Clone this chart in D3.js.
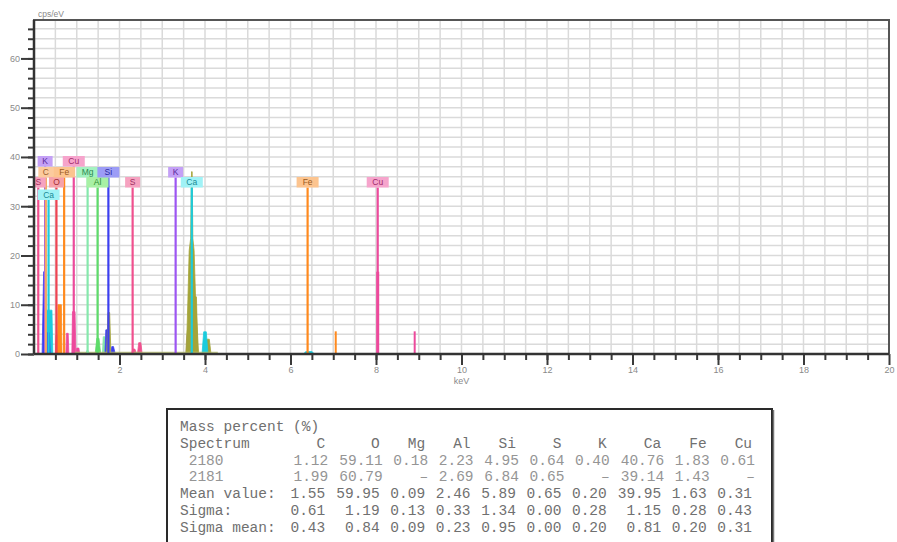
<!DOCTYPE html>
<html>
<head>
<meta charset="utf-8">
<script src="https://cdn.jsdelivr.net/npm/d3@7"></script>
<style>
  body { margin: 0; background: #fff; }
  svg text { font-family: "Liberation Sans", Arial, sans-serif; }
  .tbl text { font-family: "Liberation Mono", "Courier New", monospace; font-size: 14.5px; }
</style>
</head>
<body>
<svg id="chart" width="897" height="542"></svg>
<script>
// element marker lines (label text, line energy in keV, label row)
var markerElem = ["S", "K", "C", "Ca", "O", "Fe", "Cu", "Mg", "Al", "Si", "S", "K", "Ca", "Fe", "Cu"];
var markerKeV = [0.10, 0.26, 0.277, 0.341, 0.525, 0.705, 0.93, 1.254, 1.487, 1.74, 2.307, 3.313, 3.691, 6.40, 8.04];
var markerRow = [2, 0, 1, 3, 2, 1, 0, 1, 2, 1, 2, 1, 2, 2, 2];

// short unlabelled marker lines (keV, top in cps, element)
var minorKeV = [7.058, 8.905, 8.04];
var minorTop = [4.6, 4.6, 16.7];
var minorElem = ["Fe", "Cu", "Cu"];

// spectrum traces: [keV, cps]
var specCyanL = [[0.27, 0], [0.285, 8.9], [0.42, 8.9], [0.44, 0]];
var specBlueL = [[0.19, 0], [0.225, 16.7], [0.27, 16.7], [0.29, 4.3], [0.36, 4.3], [0.38, 0]];
var specRedO = [[0.50, 0], [0.515, 3.9], [0.545, 3.9], [0.56, 0]];
var specOrangeO = [[0.545, 0], [0.56, 10], [0.64, 10], [0.655, 0]];
var specPinkA = [[0.745, 0], [0.76, 4.2], [0.80, 4.2], [0.815, 0]];
var specPinkCu = [[0.885, 0], [0.90, 8.6], [0.96, 8.6], [0.98, 0]];
var specPinkB = [[0.98, 0], [1.0, 1.2], [1.05, 1.2], [1.07, 0]];
var specMg = [[1.2, 0], [1.25, 0.9], [1.3, 0]];
var specAl = [[1.43, 0], [1.47, 3.2], [1.52, 3.2], [1.56, 0]];
var specSiLight = [[1.60, 0], [1.62, 3.5], [1.66, 3.5], [1.68, 0]];
var specSiBlue = [[1.66, 0], [1.68, 4.9], [1.73, 4.9], [1.75, 0]];
var specSiOlive = [[1.70, 0], [1.73, 8.4], [1.77, 8.4], [1.80, 0]];
var specSiTail = [[1.80, 0], [1.82, 1.5], [1.86, 1.5], [1.90, 0]];
var specS = [[2.28, 0], [2.31, 1.0], [2.36, 1.0], [2.40, 0]];
var specPinkC = [[2.42, 0], [2.45, 2.3], [2.50, 2.3], [2.53, 0]];
var specK = [[3.28, 0], [3.31, 0.5], [3.34, 0]];
var specKb = [[3.56, 0], [3.58, 3.9], [3.62, 3.9], [3.64, 0]];
var specCa = [[3.55, 0], [3.58, 5], [3.60, 11], [3.63, 21], [3.665, 23.5], [3.685, 37], [3.70, 37],
  [3.715, 23.5], [3.745, 21], [3.78, 11], [3.82, 5], [3.85, 0]];
var specCaShoulder = [[3.74, 0], [3.76, 11.6], [3.80, 11.6], [3.83, 0]];
var specCaKbOlive = [[3.98, 0], [4.03, 3.0], [4.10, 3.0], [4.14, 0]];
var specCaKb = [[3.93, 0], [3.97, 4.5], [4.03, 4.5], [4.07, 0]];
var specFe = [[6.30, 0], [6.36, 0.5], [6.50, 0.5], [6.56, 0]];
var specBase = [[0.95, 0.35], [4.3, 0.35]];

var traces = [
  { pts: specCyanL, el: "Ca" }, { pts: specBlueL, el: "Si" }, { pts: specRedO, el: "O" },
  { pts: specOrangeO, el: "Fe" }, { pts: specPinkA, el: "Cu" }, { pts: specPinkCu, el: "Cu" },
  { pts: specPinkB, el: "Cu" }, { pts: specMg, el: "Mg" }, { pts: specAl, el: "Al" },
  { pts: specSiLight, el: "Mg" }, { pts: specSiBlue, el: "Si" }, { pts: specSiOlive, el: "olive" },
  { pts: specSiTail, el: "Si" }, { pts: specS, el: "S" }, { pts: specPinkC, el: "S" },
  { pts: specK, el: "K" }, { pts: specKb, el: "K" }, { pts: specCa, el: "olive" },
  { pts: specCaShoulder, el: "olive" }, { pts: specCaKbOlive, el: "olive" },
  { pts: specCaKb, el: "Ca" }, { pts: specFe, el: "Ca" },
];

// quantification table
var tableTitle = "Mass percent (%)";
var elements = ["C", "O", "Mg", "Al", "Si", "S", "K", "Ca", "Fe", "Cu"];
var spectrumIds = ["2180", "2181"];
var spec2180 = [1.12, 59.11, 0.18, 2.23, 4.95, 0.64, 0.40, 40.76, 1.83, 0.61];
var spec2181 = [1.99, 60.79, null, 2.69, 6.84, 0.65, null, 39.14, 1.43, null];
var meanValue = [1.55, 59.95, 0.09, 2.46, 5.89, 0.65, 0.20, 39.95, 1.63, 0.31];
var sigma = [0.61, 1.19, 0.13, 0.33, 1.34, 0.00, 0.28, 1.15, 0.28, 0.43];
var sigmaMean = [0.43, 0.84, 0.09, 0.23, 0.95, 0.00, 0.20, 0.81, 0.20, 0.31];

// colours: line, label fill, label text
var palette = {
  K: ["#9d55f2", "#c4a0f6", "#5a2a9a"],
  C: ["#f4a860", "#fccb9e", "#9a6030"],
  Fe: ["#ff8a1e", "#fcc48f", "#9a5a20"],
  Cu: ["#ec4a9c", "#f6a4cc", "#a02a6a"],
  Mg: ["#86e8ac", "#a4f2c0", "#2d8a50"],
  Al: ["#5edc6a", "#a8f0a4", "#2a8a30"],
  Si: ["#3d3ff0", "#9c9cf6", "#2a2aa0"],
  S: ["#f0508e", "#f6a2c0", "#a03060"],
  O: ["#f04452", "#f6a2aa", "#a02c34"],
  Ca: ["#1ccbdc", "#a0f2f6", "#1a8a95"],
  olive: ["#a4a43a"],
};

var svg = d3.select("#chart");
var plot = { left: 34, right: 889, top: 20, bottom: 354 };

var x = d3.scaleLinear().domain([0, 20]).range([plot.left, plot.right]);
var y = d3.scaleLinear().domain([0, 67.8]).range([plot.bottom, plot.top]);

svg.append("defs").append("clipPath").attr("id", "plot-clip")
  .append("rect")
  .attr("x", plot.left).attr("y", plot.top)
  .attr("width", plot.right - plot.left).attr("height", plot.bottom - plot.top);

// grid
var grid = svg.append("g").attr("id", "grid");
grid.selectAll("line.v").data(d3.range(0.5, 20, 0.5)).join("line")
  .attr("class", "v")
  .attr("x1", (d) => x(d)).attr("x2", (d) => x(d))
  .attr("y1", plot.top).attr("y2", plot.bottom)
  .attr("stroke", "#dadada").attr("stroke-width", 1.5);
grid.selectAll("line.h").data(d3.range(2, 67, 2)).join("line")
  .attr("class", "h")
  .attr("y1", (d) => y(d)).attr("y2", (d) => y(d))
  .attr("x1", plot.left).attr("x2", plot.right)
  .attr("stroke", "#dadada").attr("stroke-width", 1.5);

var inner = svg.append("g").attr("clip-path", "url(#plot-clip)");

// spectrum fills
var area = d3.line().x((d) => x(d[0])).y((d) => y(d[1]));
inner.append("g").attr("id", "spectrum")
  .selectAll("path").data(traces).join("path")
  .attr("d", (d) => area(d.pts) + "Z")
  .attr("fill", (d) => palette[d.el][0])
  .attr("stroke", (d) => palette[d.el][0])
  .attr("stroke-width", 0.8);

inner.append("path")
  .attr("d", area(specBase))
  .attr("fill", "none").attr("stroke", "#b8c070").attr("stroke-width", 1);

// element markers
var rowTop = [156, 167, 177, 189.5];
var boxH = 10.5;
var markers = markerElem.map((el, i) => ({ el: el, keV: markerKeV[i], row: markerRow[i] }));

inner.append("g").selectAll("line").data(minorKeV).join("line")
  .attr("x1", (d) => x(d)).attr("x2", (d) => x(d))
  .attr("y1", y(0)).attr("y2", (d, i) => y(minorTop[i]))
  .attr("stroke", (d, i) => palette[minorElem[i]][0])
  .attr("stroke-width", (d, i) => (i === 2 ? 3 : 2));

var mk = inner.append("g").attr("id", "markers");
mk.selectAll("line").data(markers).join("line")
  .attr("x1", (d) => x(d.keV)).attr("x2", (d) => x(d.keV))
  .attr("y1", y(0)).attr("y2", (d) => rowTop[d.row] + boxH)
  .attr("stroke", (d) => palette[d.el][0])
  .attr("stroke-width", 2.2);

var lbl = mk.selectAll("g.lbl").data(markers).join("g").attr("class", "lbl")
  .attr("transform", (d) => `translate(${x(d.keV)},${rowTop[d.row]})`);
lbl.append("rect")
  .attr("x", (d) => -(d.el.length > 1 ? 11 : 7.5))
  .attr("width", (d) => (d.el.length > 1 ? 22 : 15))
  .attr("height", boxH)
  .attr("fill", (d) => palette[d.el][1]);
lbl.append("text")
  .attr("y", boxH / 2 + 3)
  .attr("text-anchor", "middle")
  .attr("font-size", 8.5)
  .attr("fill", (d) => palette[d.el][2])
  .text((d) => d.el);

// axes
function styleAxis(g) {
  g.select(".domain").remove();
  g.selectAll(".tick line").attr("stroke", "#3a3a3a").attr("stroke-width", 2);
  g.selectAll(".tick text").attr("fill", "#8a8a8a").attr("font-size", 9)
    .attr("font-family", "Liberation Sans, Arial, sans-serif");
}

svg.append("g").attr("transform", `translate(${plot.left},0)`)
  .call(d3.axisLeft(y).tickValues(d3.range(0, 67, 2)).tickSize(6).tickFormat(""))
  .call(styleAxis);
svg.append("g").attr("transform", `translate(${plot.left},0)`)
  .call(d3.axisLeft(y).tickValues(d3.range(0, 61, 10)).tickSize(13).tickPadding(1))
  .call(styleAxis);

svg.append("g").attr("transform", `translate(0,${plot.bottom})`)
  .call(d3.axisBottom(x).tickValues(d3.range(0.5, 20, 0.5)).tickSize(6).tickFormat(""))
  .call(styleAxis);
svg.append("g").attr("transform", `translate(0,${plot.bottom})`)
  .call(d3.axisBottom(x).tickValues(d3.range(2, 21, 2)).tickSize(11).tickPadding(2))
  .call(styleAxis);

// frame
svg.append("rect")
  .attr("x", plot.left).attr("y", plot.top)
  .attr("width", plot.right - plot.left).attr("height", plot.bottom - plot.top)
  .attr("fill", "none").attr("stroke", "#555").attr("stroke-width", 2);
svg.append("line")
  .attr("x1", plot.left).attr("x2", plot.right)
  .attr("y1", plot.bottom).attr("y2", plot.bottom)
  .attr("stroke", "#333").attr("stroke-width", 2.5);
svg.append("line")
  .attr("x1", plot.left).attr("x2", plot.left)
  .attr("y1", plot.top).attr("y2", plot.bottom)
  .attr("stroke", "#333").attr("stroke-width", 2.5);

svg.append("text").attr("x", 38).attr("y", 17)
  .attr("font-size", 8.5).attr("fill", "#8a8a8a").text("cps/eV");
svg.append("text").attr("x", x(10)).attr("y", 384)
  .attr("text-anchor", "middle").attr("font-size", 9).attr("fill", "#8a8a8a").text("keV");

// table
var tbl = svg.append("g").attr("class", "tbl");
var box = { x: 167, y: 409, w: 605 };
tbl.append("rect")
  .attr("x", box.x).attr("y", box.y).attr("width", box.w).attr("height", 160)
  .attr("fill", "#fff").attr("stroke", "#2a2a2a").attr("stroke-width", 2);
tbl.append("line")
  .attr("x1", box.x + box.w + 1.5).attr("x2", box.x + box.w + 1.5)
  .attr("y1", box.y + 1).attr("y2", 542)
  .attr("stroke", "#777").attr("stroke-width", 1.5);

var fmt = (v) => (v === null ? "–" : v.toFixed(2));
var rows = [
  { label: " " + spectrumIds[0], vals: spec2180, data: true },
  { label: " " + spectrumIds[1], vals: spec2181, data: true },
  { label: "Mean value:", vals: meanValue },
  { label: "Sigma:", vals: sigma },
  { label: "Sigma mean:", vals: sigmaMean },
];

var charW = 9.08;
var textX = 180;
var labelChars = d3.max(rows, (r) => r.label.length);
var colChars = elements.map((e, i) => d3.max(rows, (r) => fmt(r.vals[i]).length) + 1);
var colEnd = d3.cumsum(colChars).map((c) => textX + charW * (labelChars + c));

var rowY = (i) => 431 + i * 16.8;
var textCol = "#707070";
var dataCol = "#959595";

tbl.append("text").attr("x", textX).attr("y", rowY(0)).attr("fill", textCol).text(tableTitle);
tbl.append("text").attr("x", textX).attr("y", rowY(1)).attr("fill", textCol).text("Spectrum");
tbl.selectAll("text.hdr").data(elements).join("text").attr("class", "hdr")
  .attr("x", (d, i) => colEnd[i]).attr("y", rowY(1))
  .attr("text-anchor", "end").attr("fill", textCol).text((d) => d);

rows.forEach((r, ri) => {
  var ty = rowY(ri + 2);
  var shift = r.data ? 3 : 0;
  var col = r.data ? dataCol : textCol;
  tbl.append("text").attr("x", textX).attr("y", ty).attr("fill", col)
    .attr("xml:space", "preserve").text(r.label);
  tbl.append("g").selectAll("text").data(r.vals).join("text")
    .attr("x", (d, i) => colEnd[i] + shift).attr("y", ty)
    .attr("text-anchor", "end").attr("fill", col)
    .text((d) => fmt(d));
});
</script>
</body>
</html>
